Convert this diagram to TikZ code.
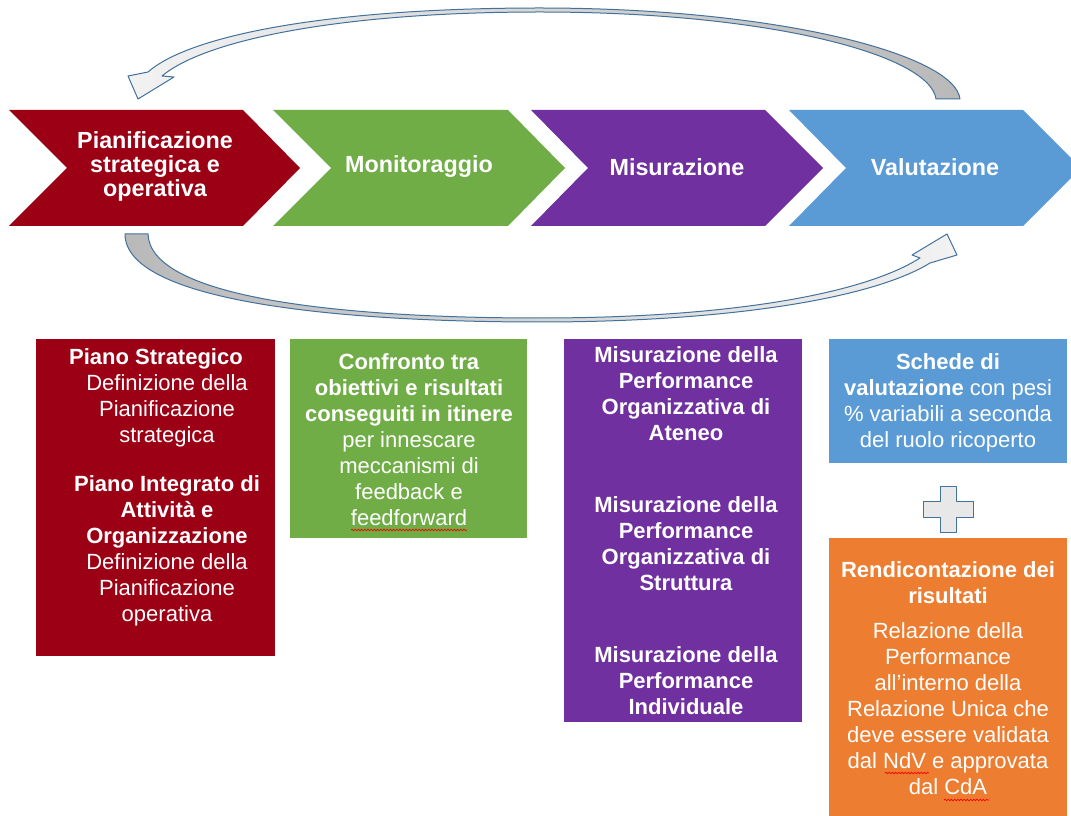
\documentclass[tikz,border=0pt]{standalone}
\usepackage{fontspec}
\setmainfont{Liberation Sans}
\usetikzlibrary{positioning, decorations.pathmorphing}
\definecolor{pianored}{HTML}{9B0014}
\definecolor{monigreen}{HTML}{70AD47}
\definecolor{misurpurple}{HTML}{7030A0}
\definecolor{valublue}{HTML}{5B9BD5}
\definecolor{rendorange}{HTML}{ED7D31}
\definecolor{arrowedge}{HTML}{41719C}
\tikzset{
    phase/.style={fill=#1},
    phaselabel/.style={text=white, font=\fontsize{17.5}{18}\selectfont\bfseries, align=center, inner sep=0pt},
    panel/.style={fill=#1, anchor=north west, inner sep=0pt},
    paneltext/.style={text=white, font=\fontsize{16.5}{19.5}\selectfont, align=center, inner sep=0pt},
    boldtext/.style={paneltext, font=\fontsize{16.5}{19.5}\selectfont\bfseries},
    loopshape/.style={draw=arrowedge, line width=0.75pt, line join=round},
    spellline/.style={draw=red, line width=0.5pt, decorate, decoration={snake, amplitude=0.6pt, segment length=2.4pt}}
}

\begin{document}
\begin{tikzpicture}[x=0.75pt, y=-0.75pt]
      \clip (0,0) rectangle (1071,816);
      \fill[white] (0,0) rectangle (1071,816);

      % the four phases
      \fill[phase=pianored] (9,110) -- ++(234,0) -- ++(57,58) -- ++(-57,58) -- ++(-234,0) -- ++(58,-58) -- cycle;
      \fill[phase=monigreen] (273,110) -- ++(235,0) -- ++(57,58) -- ++(-57,58) -- ++(-235,0) -- ++(58,-58) -- cycle;
      \fill[phase=misurpurple] (531,110) -- ++(234,0) -- ++(58,58) -- ++(-58,58) -- ++(-234,0) -- ++(57,-58) -- cycle;
      \fill[phase=valublue] (789,110) -- ++(234,0) -- ++(58,58) -- ++(-58,58) -- ++(-234,0) -- ++(57,-58) -- cycle;

      \node[phaselabel] (plan) at (155,166) {Pianificazione\\strategica e\\operativa};
      \node[phaselabel] (monit) at (419,167) {Monitoraggio};
      \node[phaselabel] (misur) at (677,167) {Misurazione};
      \node[phaselabel] (valut) at (935,167) {Valutazione};

      % loop arrows
      \shadedraw[loopshape, left color=gray!10, right color=gray!55]
        (960,99) .. controls (955,55) and (780,8) .. (540,8)
        .. controls (330,8) and (190,35) .. (148,72)
        -- (128,76) -- (138,99) -- (174,77) -- (162,76)
        .. controls (205,40) and (340,12) .. (540,12)
        .. controls (770,12) and (930,55) .. (936,99) -- cycle;
      \shadedraw[loopshape, left color=gray!55, right color=gray!10]
        (125,234) .. controls (125,300) and (330,322) .. (540,322)
        .. controls (720,322) and (870,300) .. (930,263)
        -- (957,255) -- (947,234) -- (912,255) -- (920,258)
        .. controls (860,296) and (720,318) .. (540,318)
        .. controls (330,318) and (150,296) .. (148,234) -- cycle;

      % detail panels
      \node[panel=pianored, minimum width=179.25pt, minimum height=237.75pt] (planbox) at (36,339) {};
      \node[panel=monigreen, minimum width=177.75pt, minimum height=149.25pt] (monitbox) at (290,339) {};
      \node[panel=misurpurple, minimum width=178.5pt, minimum height=287.25pt] (misurbox) at (564,339) {};
      \node[panel=valublue, minimum width=178.5pt, minimum height=93pt] (valutbox) at (829,339) {};
      \node[panel=rendorange, minimum width=178.5pt, minimum height=217.5pt] (rendbox) at (829,538) {};

      \node[paneltext] (plantext) at (167,487)
        {\hspace*{-16.5pt}\textbf{Piano Strategico}\\Definizione della\\Pianificazione\\strategica\\[17pt]\textbf{Piano Integrato di}\\\textbf{Attività e}\\\textbf{Organizzazione}\\Definizione della\\Pianificazione\\operativa};
      \node[paneltext] (monittext) at (409,440)
        {\textbf{Confronto tra}\\\textbf{obiettivi e risultati}\\\textbf{conseguiti in itinere}\\per innescare\\meccanismi di\\feedback e\\feedforward};
      \node[boldtext] (misurtext) at (686,531)
        {Misurazione della\\Performance\\Organizzativa di\\Ateneo\\[34.5pt]Misurazione della\\Performance\\Organizzativa di\\Struttura\\[34.5pt]Misurazione della\\Performance\\Individuale};
      \node[paneltext] (valuttext) at (948,403)
        {\textbf{Schede di}\\\textbf{valutazione} con pesi\\\% variabili a seconda\\del ruolo ricoperto};
      \node[paneltext] (rendtext) at (948,678)
        {\textbf{Rendicontazione dei}\\\textbf{risultati}\\[6.75pt]Relazione della\\Performance\\all’interno della\\Relazione Unica che\\deve essere validata\\dal NdV e approvata\\dal CdA};

      % spell-check marks
      \draw[spellline] (351,530) -- (467,530);
      \draw[spellline] (885,773) -- (929,773);
      \draw[spellline] (944,800) -- (989,800);

      % plus between the two right panels
      \filldraw[loopshape, fill=gray!18] (940,486) -- (956,486) -- (956,501) -- (973,501) -- (973,517) -- (956,517)
        -- (956,532) -- (940,532) -- (940,517) -- (923,517) -- (923,501) -- (940,501) -- cycle;
\end{tikzpicture}
\end{document}
